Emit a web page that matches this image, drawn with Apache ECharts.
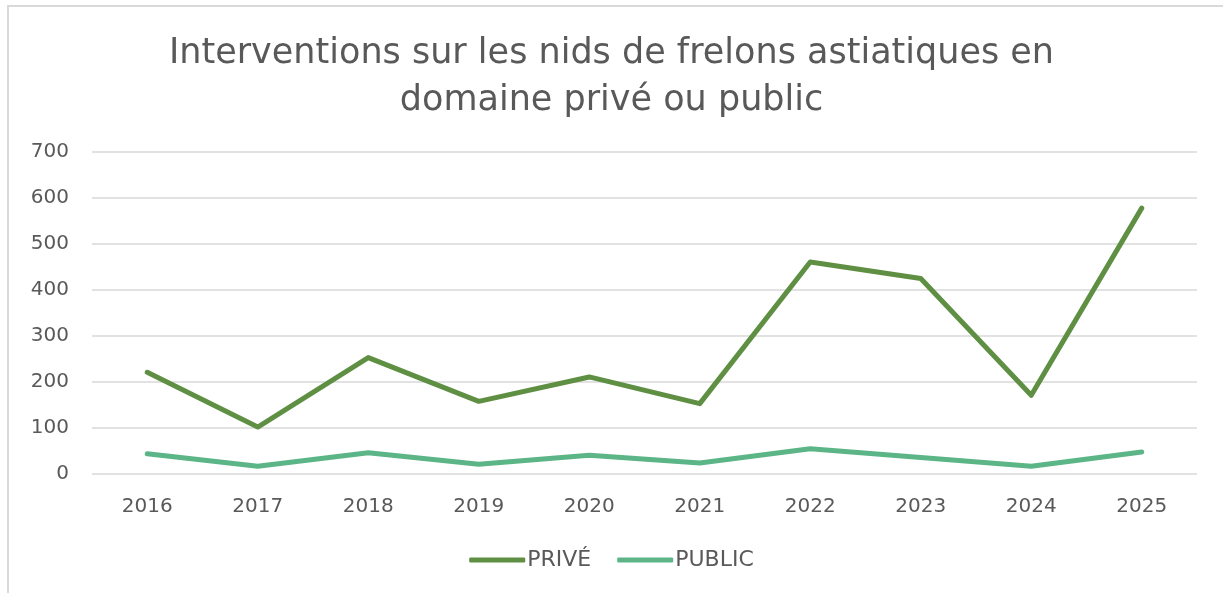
<!DOCTYPE html>
<html lang="fr">
<head>
<meta charset="UTF-8">
<script src="https://cdn.jsdelivr.net/npm/echarts@6/dist/echarts.min.js"></script>
<style>
  html, body { margin: 0; padding: 0; background: #fff; }
  #frame { position: absolute; left: 7px; top: 5px; width: 1300px; height: 700px;
           border-left: 2px solid #d9d9d9; border-top: 2px solid #d9d9d9; }
  #chart { position: absolute; left: 0; top: 0; width: 1223px; height: 593px; }
</style>
</head>
<body>
<div id="frame"></div>
<div id="chart"></div>
<script>
var years = ['2016', '2017', '2018', '2019', '2020', '2021', '2022', '2023', '2024', '2025'];
var prive = [221, 102, 253, 158, 211, 153, 461, 425, 171, 578];
var publicVals = [44, 17, 46, 21, 41, 24, 55, 36, 17, 48];

var textColor = '#595959';
var font = '"DejaVu Sans"';

var chart = echarts.init(document.getElementById('chart'));
chart.setOption({
    animation: false,
    title: {
        text: 'Interventions sur les nids de frelons astiatiques en\ndomaine privé ou public',
        left: 'center',
        top: 25,
        textStyle: { color: textColor, fontFamily: font, fontWeight: 'normal', fontSize: 35, lineHeight: 47 }
    },
    legend: {
        bottom: 17,
        left: 'center',
        itemWidth: 56,
        itemHeight: 5,
        itemGap: 26,
        icon: 'roundRect',
        textStyle: { color: textColor, fontFamily: font, fontSize: 22, padding: [0, 0, 0, -3] },
        data: ['PRIVÉ', 'PUBLIC']
    },
    grid: { left: 92, right: 26, top: 152, bottom: 119, containLabel: false },
    xAxis: {
        type: 'category',
        data: years,
        boundaryGap: true,
        axisLine: { show: false },
        axisTick: { show: false },
        axisLabel: { color: textColor, fontFamily: font, fontSize: 20, margin: 23 }
    },
    yAxis: {
        type: 'value',
        min: 0,
        max: 700,
        interval: 100,
        axisLine: { show: false },
        axisTick: { show: false },
        axisLabel: { color: textColor, fontFamily: font, fontSize: 20, margin: 23 },
        splitLine: { lineStyle: { color: '#d9d9d9', width: 1.5 } }
    },
    series: [
        {
            name: 'PRIVÉ',
            type: 'line',
            data: prive,
            symbol: 'none',
            itemStyle: { color: '#5f8f43' },
            lineStyle: { color: '#5f8f43', width: 5, cap: 'round', join: 'round' }
        },
        {
            name: 'PUBLIC',
            type: 'line',
            data: publicVals,
            symbol: 'none',
            itemStyle: { color: '#5cb587' },
            lineStyle: { color: '#5cb587', width: 5, cap: 'round', join: 'round' }
        }
    ]
});
</script>
</body>
</html>
